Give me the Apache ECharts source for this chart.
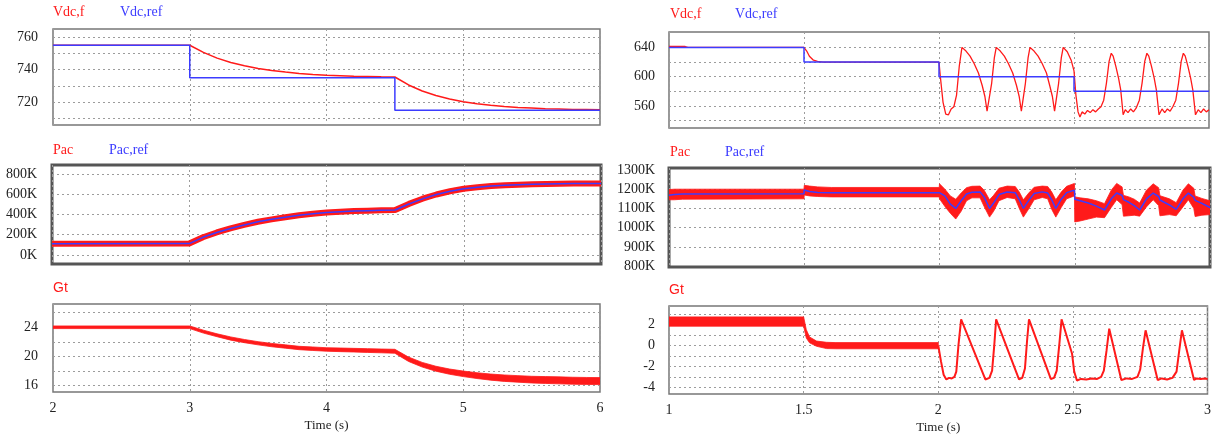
<!DOCTYPE html>
<html>
<head>
<meta charset="utf-8">
<script src="https://cdn.jsdelivr.net/npm/echarts@6/dist/echarts.min.js"></script>
<style>
  html, body { margin: 0; padding: 0; background: #fff; }
  #chart { width: 1214px; height: 440px; }
</style>
</head>
<body>
<div id="chart"></div>
<script>
// ---- left column, t = 2 .. 6 s ----
const tL = [2, 3, 3.1, 3.2, 3.3, 3.4, 3.5, 3.6, 3.7, 3.8, 3.9, 4.0, 4.1, 4.2, 4.3, 4.4, 4.5,
  4.6, 4.7, 4.8, 4.9, 5.0, 5.1, 5.2, 5.3, 5.4, 5.5, 5.6, 5.7, 5.8, 5.9, 6.0]
const vdcFL = [755, 755, 750.6, 747.1, 744.4, 742.4, 740.7, 739.5, 738.5, 737.7, 737.1, 736.6, 736.3, 736.0, 735.8, 735.6, 735.5,
  730.6, 726.9, 724.1, 722.0, 720.3, 719.0, 718.1, 717.4, 716.8, 716.4, 716.0, 715.8, 715.6, 715.5, 715.4]
const vdcRefL = [[2, 755], [3, 755], [3, 735], [4.5, 735], [4.5, 715], [6, 715]]
// Pac in kW (labels add the K)
const pacL = [110, 112, 175, 222, 262, 297, 328, 352, 373, 392, 408, 420, 428, 434, 438, 441, 444,
  505, 556, 598, 630, 655, 670, 681, 689, 695, 699, 702, 704, 706, 707, 708]
const pacRefL = [110, 112, 174, 221, 262, 297, 328, 352, 373, 392, 408, 420, 428, 434, 438, 441, 444,
  504, 555, 598, 630, 655, 670, 681, 689, 695, 699, 702, 704, 706, 707, 708]
const gtL = [24, 24, 23.4, 22.9, 22.45, 22.1, 21.8, 21.55, 21.35, 21.15, 21.05, 20.95, 20.9, 20.85, 20.8, 20.75, 20.7,
  19.6, 18.85, 18.3, 17.9, 17.6, 17.35, 17.15, 17.0, 16.9, 16.8, 16.75, 16.7, 16.65, 16.62, 16.6]
const gtHalfL = [0.18, 0.18, 0.2, 0.2, 0.22, 0.22, 0.22, 0.23, 0.23, 0.23, 0.24, 0.24, 0.25, 0.25, 0.26, 0.26, 0.27,
  0.3, 0.32, 0.34, 0.36, 0.38, 0.4, 0.42, 0.44, 0.45, 0.46, 0.47, 0.48, 0.48, 0.48, 0.48]

// ---- right column, t = 1 .. 3 s ----
const vdcRefR = [[1, 640], [1.5, 640], [1.5, 620], [2, 620], [2, 600], [2.5, 600], [2.5, 580], [3, 580]]
const vdcFR = [
  [1.0, 641.5], [1.06, 641.2], [1.07, 640], [1.5, 640], [1.51, 635], [1.52, 628], [1.535, 622.5], [1.55, 620.8], [1.57, 620], [2.0, 620],
  [2.005, 600], [2.015, 565], [2.025, 549], [2.035, 548], [2.045, 556], [2.055, 559], [2.065, 575], [2.075, 614], [2.085, 640],
  [2.1, 635], [2.115, 628], [2.13, 618], [2.146, 605], [2.16, 588], [2.17, 573], [2.178, 553], [2.195, 591], [2.205, 626], [2.212, 640],
  [2.227, 635], [2.242, 628], [2.257, 618], [2.273, 605], [2.287, 588], [2.297, 573], [2.305, 553], [2.32, 591], [2.33, 626], [2.337, 640],
  [2.352, 635], [2.367, 628], [2.382, 618], [2.398, 605], [2.41, 588], [2.42, 573], [2.428, 553], [2.443, 591], [2.453, 626], [2.46, 640],
  [2.475, 634], [2.49, 622], [2.5, 608], [2.507, 575], [2.515, 552], [2.522, 545], [2.53, 552], [2.54, 549], [2.55, 554], [2.56, 551],
  [2.57, 555], [2.58, 552], [2.59, 556], [2.6, 559], [2.61, 568], [2.62, 591], [2.63, 621], [2.638, 632],
  [2.645, 628], [2.655, 614], [2.665, 598], [2.673, 582], [2.682, 548], [2.69, 555], [2.7, 551], [2.71, 556], [2.72, 552], [2.73, 557],
  [2.742, 568], [2.752, 591], [2.762, 621], [2.77, 632],
  [2.777, 628], [2.787, 614], [2.797, 598], [2.805, 582], [2.815, 548], [2.826, 556], [2.836, 551], [2.846, 556], [2.856, 553], [2.866, 559],
  [2.877, 568], [2.887, 591], [2.897, 621], [2.905, 632],
  [2.912, 628], [2.922, 614], [2.932, 598], [2.94, 582], [2.95, 548], [2.96, 555], [2.97, 551], [2.98, 556], [2.99, 552], [3.0, 555]
]
const pacTR = [1.0, 1.02, 1.05, 1.499, 1.5, 1.52, 1.55, 1.6, 1.999, 2.0, 2.02, 2.04, 2.06, 2.08, 2.1, 2.12, 2.15,
  2.165, 2.185, 2.2, 2.22, 2.25, 2.28, 2.295, 2.31, 2.33, 2.35, 2.38, 2.4, 2.415, 2.43, 2.45, 2.47, 2.499,
  2.5, 2.52, 2.55, 2.58, 2.61, 2.635, 2.655, 2.675, 2.68, 2.7, 2.72, 2.74, 2.765, 2.79,
  2.81, 2.815, 2.85, 2.875, 2.9, 2.92, 2.94, 2.945, 2.97, 3.0]
const pacRefR = [1168, 1172, 1175, 1176, 1196, 1188, 1183, 1182, 1182, 1192, 1165, 1122, 1100, 1140, 1175, 1184, 1186,
  1160, 1100, 1128, 1172, 1185, 1182, 1145, 1100, 1142, 1178, 1186, 1180, 1145, 1100, 1148, 1182, 1195,
  1148, 1140, 1128, 1112, 1092, 1150, 1180, 1168, 1146, 1132, 1115, 1092, 1150, 1180,
  1162, 1144, 1118, 1095, 1150, 1180, 1158, 1142, 1126, 1105]
const pacUpR = [1198, 1200, 1200, 1200, 1220, 1216, 1212, 1209, 1209, 1228, 1200, 1165, 1148, 1180, 1208, 1215, 1216,
  1195, 1145, 1168, 1205, 1216, 1214, 1185, 1145, 1180, 1210, 1216, 1214, 1185, 1145, 1185, 1215, 1230,
  1160, 1155, 1150, 1140, 1125, 1195, 1230, 1212, 1168, 1160, 1148, 1128, 1195, 1228,
  1208, 1166, 1150, 1130, 1195, 1228, 1205, 1165, 1152, 1140]
const pacLoR = [1145, 1145, 1148, 1150, 1170, 1165, 1162, 1160, 1160, 1150, 1110, 1075, 1045, 1085, 1140, 1155, 1155,
  1110, 1055, 1085, 1140, 1157, 1150, 1100, 1055, 1098, 1145, 1157, 1150, 1095, 1055, 1105, 1150, 1165,
  1030, 1035, 1045, 1055, 1052, 1105, 1145, 1120, 1060, 1062, 1065, 1060, 1108, 1145,
  1115, 1062, 1068, 1062, 1108, 1145, 1100, 1058, 1065, 1068]
const gtTR = [1.0, 1.5, 1.51, 1.522, 1.548, 1.585, 1.62, 2.0]
const gtUpR = [2.73, 2.73, 1.5, 0.81, 0.42, 0.3, 0.27, 0.27]
const gtLoR = [1.84, 1.84, 0.7, 0.25, -0.08, -0.3, -0.32, -0.32]
const gtR = [
  [2.0, 0], [2.01, -1.5], [2.02, -2.8], [2.03, -3.25], [2.04, -3.1], [2.05, -3.15], [2.06, -3.0], [2.067, -2.5], [2.075, 0], [2.085, 2.5],
  [2.175, -3.25], [2.19, -3.1], [2.2, -2.4], [2.208, 0], [2.215, 2.5],
  [2.3, -3.25], [2.312, -3.1], [2.322, -2.2], [2.33, 0.5], [2.337, 2.5],
  [2.418, -3.2], [2.43, -3.1], [2.44, -2.4], [2.45, 0.2], [2.458, 2.5],
  [2.497, -0.8], [2.505, -2.5], [2.515, -3.35], [2.53, -3.2], [2.55, -3.25], [2.57, -3.15], [2.59, -3.2], [2.605, -3.0], [2.615, -2.4], [2.625, -0.5], [2.635, 1.6],
  [2.68, -3.3], [2.7, -3.15], [2.72, -3.2], [2.74, -3.0], [2.75, -2.3], [2.76, -0.3], [2.77, 1.45],
  [2.815, -3.3], [2.83, -3.15], [2.85, -3.25], [2.87, -3.1], [2.885, -2.5], [2.895, -0.5], [2.905, 1.45],
  [2.95, -3.3], [2.96, -3.15], [2.975, -3.2], [2.99, -3.15], [3.0, -3.2]
]

// ---- axis ticks / labels ----
const yTicks = [
  [710, 720, 730, 740, 750, 760], [0, 200, 400, 600, 800], [16, 18, 20, 22, 24, 26],
  [540, 560, 580, 600, 620, 640], [900, 1000, 1100, 1200], [-4, -3, -2, -1, 0, 1, 2, 3]
]
const yLabels = [
  [720, 740, 760], [0, 200, 400, 600, 800], [16, 20, 24],
  [560, 600, 640], [800, 900, 1000, 1100, 1200, 1300], [-4, -2, 0, 2]
]
const yRange = [[706, 765], [-90, 890], [15.1, 27.2], [530, 661], [796, 1310], [-4.64, 3.77]]

const RED = '#ff1a1a'
const BLUE = '#3c3cff'
const serif = '"Liberation Serif", "DejaVu Serif", serif'
const sans = '"Liberation Sans", Arial, sans-serif'

const grids = [
  { left: 53, top: 29, width: 547, height: 96, bw: 1.5 },
  { left: 52, top: 165, width: 549, height: 99, bw: 3 },
  { left: 53, top: 304, width: 547, height: 88, bw: 1.5 },
  { left: 669, top: 32, width: 540, height: 96, bw: 1.5 },
  { left: 669, top: 168, width: 541, height: 99, bw: 3 },
  { left: 669, top: 306, width: 540, height: 88, bw: 1.5 }
]

const gridLine = { show: true, lineStyle: { color: '#9c9c9c', type: [2, 3], width: 1 } }

const xAxisFor = (gi) => {
  const leftCol = gi < 3
  const bottom = gi === 2 || gi === 5
  return {
    type: 'value', gridIndex: gi,
    min: leftCol ? 2 : 1, max: leftCol ? 6 : 3, interval: leftCol ? 1 : 0.5,
    axisLine: { show: false }, axisTick: { show: false },
    axisLabel: { show: bottom, color: '#222', fontFamily: serif, fontSize: 14, margin: 9 },
    splitLine: gridLine,
    name: bottom ? 'Time (s)' : '', nameLocation: 'middle', nameGap: 27,
    nameTextStyle: { color: '#222', fontFamily: serif, fontSize: 13 }
  }
}

const yAxisFor = (gi) => ({
  type: 'value', gridIndex: gi, min: yRange[gi][0], max: yRange[gi][1],
  axisLine: { show: false },
  axisTick: { show: false, customValues: yTicks[gi] },
  axisLabel: {
    customValues: yLabels[gi], color: '#222', fontFamily: serif, fontSize: 14,
    margin: gi < 3 ? 15 : 14,
    formatter: (v) => (gi === 1 || gi === 4) ? `${v}K` : String(v)
  },
  splitLine: gridLine
})

const line = (gi, data, color, width, z) => ({
  type: 'line', xAxisIndex: gi, yAxisIndex: gi, data, symbol: 'none', silent: true,
  lineStyle: { color, width }, itemStyle: { color }, z
})

// filled envelope for the noisy (thick) traces
const band = (gi, ts, up, lo, color, z) => ({
  type: 'custom', xAxisIndex: gi, yAxisIndex: gi, silent: true, clip: true, z,
  data: ts.map((t, i) => [t, lo[i], up[i]]),
  encode: { x: 0, y: [1, 2] },
  renderItem: (params, api) => {
    if (params.dataIndex !== 0) return null
    const top = ts.map((t, i) => api.coord([t, up[i]]))
    const bottom = ts.map((t, i) => api.coord([t, lo[i]])).reverse()
    return {
      type: 'polygon',
      shape: { points: top.concat(bottom) },
      style: { fill: color, stroke: color, lineWidth: 0.8 }
    }
  }
})

const pair = (ts, vs) => ts.map((t, i) => [t, vs[i]])

const titleItem = (text, color, left, top, font) => ({
  text, left, top, padding: 0,
  textStyle: { color, fontFamily: font || serif, fontSize: 14, fontWeight: 'normal' }
})

const chart = echarts.init(document.getElementById('chart'))
chart.setOption({
  animation: false,
  backgroundColor: '#fff',
  title: [
    titleItem('Vdc,f', RED, 53, 5), titleItem('Vdc,ref', BLUE, 120, 5),
    titleItem('Pac', RED, 53, 143), titleItem('Pac,ref', BLUE, 109, 143),
    titleItem('Gt', RED, 53, 281, sans),
    titleItem('Vdc,f', RED, 670, 7), titleItem('Vdc,ref', BLUE, 735, 7),
    titleItem('Pac', RED, 670, 145), titleItem('Pac,ref', BLUE, 725, 145),
    titleItem('Gt', RED, 669, 283, sans)
  ],
  grid: grids.map(g => ({
    left: g.left, top: g.top, width: g.width, height: g.height,
    show: true, backgroundColor: '#fff', borderColor: g.bw > 2 ? '#555' : '#777', borderWidth: g.bw
  })),
  xAxis: grids.map((g, i) => xAxisFor(i)),
  yAxis: grids.map((g, i) => yAxisFor(i)),
  series: [
    line(0, pair(tL, vdcFL), RED, 1.5, 2),
    line(0, vdcRefL, BLUE, 1.5, 3),
    line(1, pair(tL, pacL), RED, 6, 2),
    line(1, pair(tL, pacRefL), BLUE, 1.5, 3),
    band(2, tL, gtL.map((v, i) => v + gtHalfL[i]), gtL.map((v, i) => v - gtHalfL[i]), RED, 2),
    line(3, vdcFR, RED, 1.3, 2),
    line(3, vdcRefR, BLUE, 1.5, 3),
    band(4, pacTR, pacUpR, pacLoR, RED, 2),
    line(4, pair(pacTR, pacRefR), BLUE, 1.5, 3),
    band(5, gtTR, gtUpR, gtLoR, RED, 2),
    line(5, gtR, RED, 2, 2)
  ]
})
</script>
</body>
</html>
